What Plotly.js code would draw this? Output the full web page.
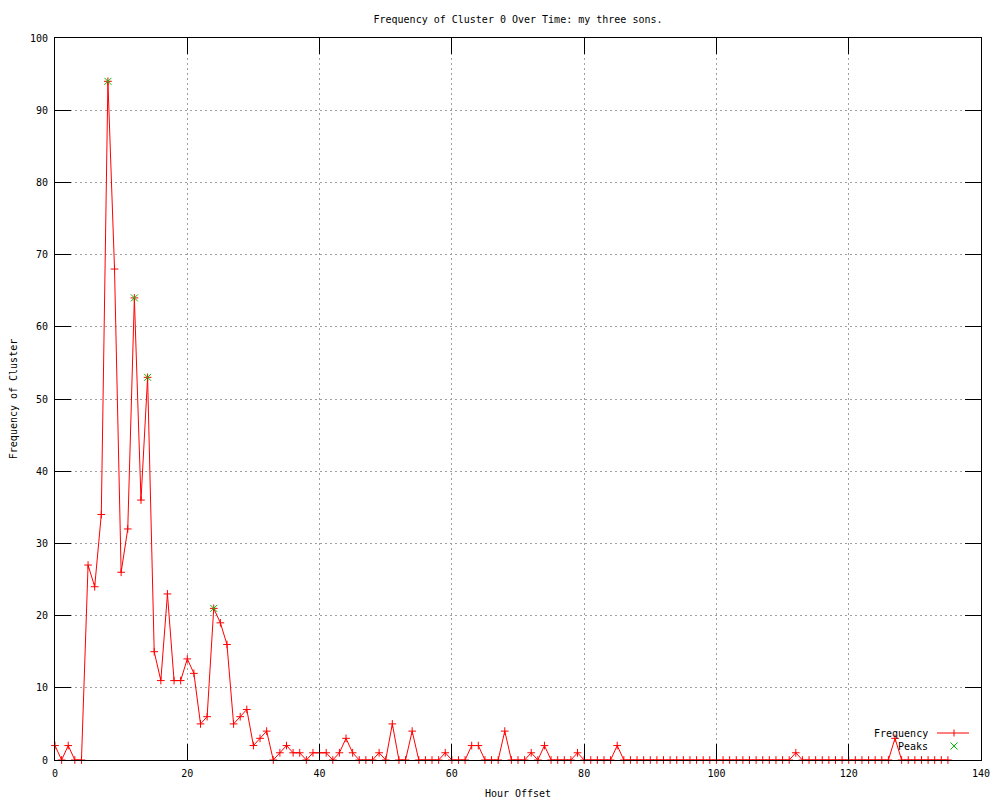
<!DOCTYPE html>
<html>
<head>
<meta charset="utf-8">
<script src="https://cdn.plot.ly/plotly-3.0.1.min.js"></script>
<style>html,body{margin:0;padding:0;background:#fff;}#chart{width:1000px;height:800px;}</style>
</head>
<body>
<div id="chart"></div>
<script>
// Hour offsets 0..135
var hours = [];
for (var h = 0; h <= 135; h++) hours.push(h);

var frequency = [
  2, 0, 2, 0, 0, 27, 24, 34, 94, 68,
  26, 32, 64, 36, 53, 15, 11, 23, 11, 11,
  14, 12, 5, 6, 21, 19, 16, 5, 6, 7,
  2, 3, 4, 0, 1, 2, 1, 1, 0, 1,
  1, 1, 0, 1, 3, 1, 0, 0, 0, 1,
  0, 5, 0, 0, 4, 0, 0, 0, 0, 1,
  0, 0, 0, 2, 2, 0, 0, 0, 4, 0,
  0, 0, 1, 0, 2, 0, 0, 0, 0, 1,
  0, 0, 0, 0, 0, 2, 0, 0, 0, 0,
  0, 0, 0, 0, 0, 0, 0, 0, 0, 0,
  0, 0, 0, 0, 0, 0, 0, 0, 0, 0,
  0, 0, 1, 0, 0, 0, 0, 0, 0, 0,
  0, 0, 0, 0, 0, 0, 0, 3, 0, 0,
  0, 0, 0, 0, 0, 0
];

var peakHours = [8, 12, 14, 24];
var peakValues = [94, 64, 53, 21];

var xTicks = [0, 20, 40, 60, 80, 100, 120, 140];
var yTicks = [0, 10, 20, 30, 40, 50, 60, 70, 80, 90, 100];

var FONT = 'DejaVu Sans Mono, Liberation Mono, monospace';
var RED = '#ff0000';
var GREEN = '#00c000';

var traces = [
  {
    x: hours, y: frequency, type: 'scatter', mode: 'lines+markers', name: 'Frequency',
    line: {color: RED, width: 1},
    marker: {symbol: 'cross-thin', size: 5.5, color: RED, line: {color: RED, width: 1}},
    cliponaxis: false, showlegend: false
  },
  {
    x: peakHours, y: peakValues, type: 'scatter', mode: 'markers', name: 'Peaks',
    marker: {symbol: 'x-thin', size: 7, color: GREEN, line: {color: GREEN, width: 1}},
    cliponaxis: false, showlegend: false
  }
];

// legend geometry (paper coordinates)
var L = 55, R = 981, T = 38, B = 760;
function px2x(p) { return (p - L) / (R - L); }
function px2y(p) { return (B - p) / (B - T); }
var legTextX = px2x(930);
var legRow1 = px2y(733), legRow2 = px2y(746);
var legSymX = px2x(954);

var layout = {
  width: 1000, height: 800,
  margin: {l: L, r: 1000 - R, t: T, b: 800 - B},
  paper_bgcolor: '#fff', plot_bgcolor: '#fff',
  font: {family: FONT, size: 10, color: '#000'},
  title: {text: 'Frequency of Cluster 0 Over Time: my three sons.', font: {family: FONT, size: 10, color: '#000'},
          x: 0.5, xref: 'paper', xanchor: 'center', y: 1 - 19 / 800, yref: 'container', yanchor: 'middle'},
  xaxis: {
    range: [0, 140], tickmode: 'array', tickvals: xTicks, ticktext: xTicks.map(String),
    ticks: 'inside', ticklen: 16, tickwidth: 1, tickcolor: '#000',
    showline: true, linecolor: '#000', linewidth: 1, mirror: 'ticks',
    showgrid: true, gridcolor: '#a0a0a0', gridwidth: 1, griddash: '2px,3px',
    zeroline: false, fixedrange: true,
    tickfont: {family: FONT, size: 10, color: '#000'}, ticklabelstandoff: 4,
    title: {text: 'Hour Offset', font: {family: FONT, size: 10, color: '#000'}, standoff: 11}
  },
  yaxis: {
    range: [0, 100], tickmode: 'array', tickvals: yTicks, ticktext: yTicks.map(String),
    ticks: 'inside', ticklen: 16, tickwidth: 1, tickcolor: '#000',
    showline: true, linecolor: '#000', linewidth: 1, mirror: 'ticks',
    showgrid: true, gridcolor: '#a0a0a0', gridwidth: 1, griddash: '2px,3px',
    zeroline: false, fixedrange: true,
    tickfont: {family: FONT, size: 10, color: '#000'}, ticklabelstandoff: 4,
    title: {text: 'Frequency of Cluster', font: {family: FONT, size: 10, color: '#000'}, standoff: 10}
  },
  showlegend: false,
  annotations: [
    {text: 'Frequency', xref: 'paper', yref: 'paper', x: legTextX, y: legRow1, xanchor: 'right', yanchor: 'middle',
     showarrow: false, font: {family: FONT, size: 10, color: '#000'}},
    {text: 'Peaks', xref: 'paper', yref: 'paper', x: legTextX, y: legRow2, xanchor: 'right', yanchor: 'middle',
     showarrow: false, font: {family: FONT, size: 10, color: '#000'}}
  ],
  shapes: [
    {type: 'line', xref: 'paper', yref: 'paper', x0: px2x(937), x1: px2x(969), y0: legRow1, y1: legRow1,
     line: {color: RED, width: 1}},
    {type: 'line', xref: 'paper', yref: 'paper', xsizemode: 'pixel', ysizemode: 'pixel', xanchor: legSymX, yanchor: legRow1,
     x0: 0, x1: 0, y0: -3.5, y1: 3.5, line: {color: RED, width: 1}},
    {type: 'line', xref: 'paper', yref: 'paper', xsizemode: 'pixel', ysizemode: 'pixel', xanchor: legSymX, yanchor: legRow2,
     x0: -3.5, x1: 3.5, y0: -3.5, y1: 3.5, line: {color: GREEN, width: 1}},
    {type: 'line', xref: 'paper', yref: 'paper', xsizemode: 'pixel', ysizemode: 'pixel', xanchor: legSymX, yanchor: legRow2,
     x0: -3.5, x1: 3.5, y0: 3.5, y1: -3.5, line: {color: GREEN, width: 1}}
  ]
};

Plotly.newPlot('chart', traces, layout, {staticPlot: true, displayModeBar: false});
</script>
</body>
</html>
